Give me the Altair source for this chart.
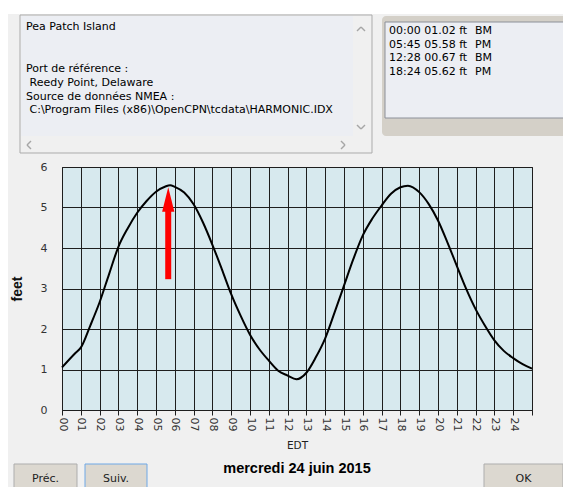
import altair as alt
import pandas as pd

# ---------------- data ----------------
hours = [0, 0.7, 1, 1.5, 2, 2.5, 3, 3.5, 4, 4.5, 5, 5.5, 5.75, 6, 6.5, 7, 7.5, 8, 8.5,
         9, 9.5, 10, 10.5, 11, 11.5, 12, 12.47, 13, 13.5, 14, 14.5, 15, 15.5, 16, 16.5,
         17, 17.5, 18, 18.4, 19, 19.5, 20, 20.5, 21, 21.5, 22, 22.5, 23, 23.5, 24, 24.5, 25]
feet = [1.05, 1.40, 1.54, 2.08, 2.66, 3.35, 4.03, 4.49, 4.87, 5.16, 5.39, 5.52, 5.55, 5.51,
        5.37, 5.08, 4.63, 4.08, 3.48, 2.86, 2.33, 1.86, 1.50, 1.22, 0.97, 0.85, 0.76, 0.92,
        1.30, 1.77, 2.41, 3.07, 3.73, 4.31, 4.72, 5.05, 5.34, 5.50, 5.54, 5.38, 5.09, 4.68,
        4.14, 3.56, 2.99, 2.49, 2.08, 1.72, 1.46, 1.28, 1.13, 1.02]

x_ticks = list(range(0, 26))
y_ticks = [0, 1, 2, 3, 4, 5, 6]

arrow_hour = [5.65]
arrow_base = [3.23]
arrow_neck = [4.92]
arrow_head = [5.2]

info_lines = ["Pea Patch Island", "Port de référence :", " Reedy Point, Delaware",
              "Source de données NMEA :", " C:\\Program Files (x86)\\OpenCPN\\tcdata\\HARMONIC.IDX"]
event_times = ["00:00", "05:45", "12:28", "18:24"]
event_heights = ["01.02", "05.58", "00.67", "05.62"]
event_kinds = ["BM", "PM", "BM", "PM"]

date_label = "mercredi 24 juin 2015"
buttons = ["Préc.", "Suiv.", "OK"]

# ---------------- layout ----------------
PAD_L, PAD_T, PAD_R, PAD_B = 54, 159, 31, 77
W, H = 470, 243
OX, OY = 8 + PAD_L, 8 + PAD_T
FONT = "DejaVu Sans"

one = pd.DataFrame({"d": [0]})


def px(x):
    return x - OX


def py(y):
    return y - OY


def rect(x0, y0, x1, y1, fill, stroke=None, sw=1, r=0):
    kw = dict(fill=fill, cornerRadius=r)
    if stroke:
        kw.update(stroke=stroke, strokeWidth=sw)
    return alt.Chart(one).mark_rect(**kw).encode(
        x=alt.value(px(x0)), x2=alt.value(px(x1)),
        y=alt.value(py(y0)), y2=alt.value(py(y1)))


def seg(x0, y0, x1, y1, color="#a6a6a6", sw=1.5):
    return alt.Chart(one).mark_rule(color=color, strokeWidth=sw).encode(
        x=alt.value(px(x0)), x2=alt.value(px(x1)),
        y=alt.value(py(y0)), y2=alt.value(py(y1)))


def txt(s, x, y, size=11, weight="normal", align="left", color="#000", font=FONT):
    if s.startswith(" "):
        x += 3.5
        s = s.lstrip()
    return alt.Chart(one).mark_text(
        fontSize=size, fontWeight=weight, align=align, baseline="middle",
        color=color, font=font).encode(
        x=alt.value(px(x)), y=alt.value(py(y)), text=alt.value(s))


X_AXIS = alt.Axis(values=x_ticks, grid=True, gridColor="#1e1e1e", gridWidth=1,
                  gridOpacity=1, domainColor="#1e1e1e", tickColor="#1e1e1e",
                  tickSize=5, labelAngle=90, labelAlign="left",
                  labelBaseline="middle", labelPadding=2, labelFont=FONT,
                  labelFontSize=11, labelColor="#333", labelOverlap=False,
                  labelExpr="datum.value > 24 ? '' : (datum.value < 10 ? '0' + datum.value : '' + datum.value)",
                  title="EDT", titleFont=FONT, titleFontSize=10.5,
                  titleFontWeight="normal", titleColor="#222", titlePadding=10)
Y_AXIS = alt.Axis(values=y_ticks, grid=True, gridColor="#1e1e1e", gridWidth=1,
                  gridOpacity=1, domain=False, ticks=False, labelPadding=15,
                  labelFont=FONT, labelFontSize=11, labelColor="#333",
                  title="feet", titleFont="Liberation Sans", titleFontSize=14,
                  titleFontWeight="bold", titleColor="#111", titlePadding=16)
X_SCALE = alt.Scale(domain=[0, 25], nice=False, zero=False)
Y_SCALE = alt.Scale(domain=[0, 6], nice=False)


def X(field):
    return alt.X(f"{field}:Q", scale=X_SCALE, axis=X_AXIS)


def Y(field):
    return alt.Y(f"{field}:Q", scale=Y_SCALE, axis=Y_AXIS)


layers = []
# white strip on top
layers.append(rect(0, 0, 700, 14, "white"))
# left info box
layers.append(rect(20, 15, 372, 153, "#f0f0f0", "#ababab"))
layers.append(rect(21, 16, 353, 136, "#eceef3"))
# scroll arrows
layers += [seg(357, 31, 361, 27), seg(361, 27, 365, 31),
           seg(357, 125, 361, 129), seg(361, 129, 365, 125),
           seg(31, 141, 27, 145), seg(27, 145, 31, 149),
           seg(341, 141, 345, 145), seg(345, 145, 341, 149)]
# right table box
layers.append(rect(382, 16, 700, 136, "#d4d0c8", r=4))
layers.append(rect(385, 22, 700, 118, "#eceef3", "#8c9099"))
# buttons
layers.append(rect(14, 464, 77, 500, "#dcd8d0", "#adadad"))
layers.append(rect(85, 464, 147, 500, "#dcd8d0", "#6fa8e6"))
layers.append(rect(484, 464, 563, 500, "#dcd8d0", "#adadad"))

# ---------------- chart ----------------
tide_df = pd.DataFrame({"hour": hours, "feet": feet})
arrow_df = pd.DataFrame({"hour": arrow_hour, "base": arrow_base,
                         "neck": arrow_neck, "head": arrow_head})

line = alt.Chart(tide_df).mark_line(color="black", strokeWidth=2,
                                     interpolate="monotone").encode(x=X("hour"), y=Y("feet"))

shaft = alt.Chart(arrow_df).mark_rule(color="#ff0000", strokeWidth=6, strokeCap="butt").encode(
    x=X("hour"), y=Y("base"), y2="neck:Q")
head = alt.Chart(arrow_df).mark_point(shape="M0,-1L0.5,1L-0.5,1Z", size=600, filled=True,
                                      color="#ff0000", opacity=1).encode(
    x=X("hour"), y=Y("head"))

layers += [line, shaft, head]

# texts
info_y = [27, 69, 83, 97, 110]
for s, y in zip(info_lines, info_y):
    layers.append(txt(s, 26, y))
for i, (t, h, k) in enumerate(zip(event_times, event_heights, event_kinds)):
    yy = 31 + i * 13.6
    layers.append(txt(f"{t} {h} ft", 389, yy))
    layers.append(txt(k, 475, yy))

layers.append(txt(date_label, 297, 469, size=14.5, weight="bold", align="center",
                  font="Liberation Sans"))
for b, cx in zip(buttons, [45.5, 116, 523.5]):
    layers.append(txt(b, cx, 479, size=11, align="center", color="#222"))

chart = alt.layer(*layers).properties(
    width=W, height=H,
    autosize=alt.AutoSizeParams(type="none"),
    padding={"left": PAD_L, "top": PAD_T, "right": PAD_R, "bottom": PAD_B},
    background="#f0f0f0",
).configure_view(fill="#d7e9ee", stroke="#1e1e1e", strokeWidth=1)

chart.save("out.html", embed_options={"renderer": "svg", "actions": False})
